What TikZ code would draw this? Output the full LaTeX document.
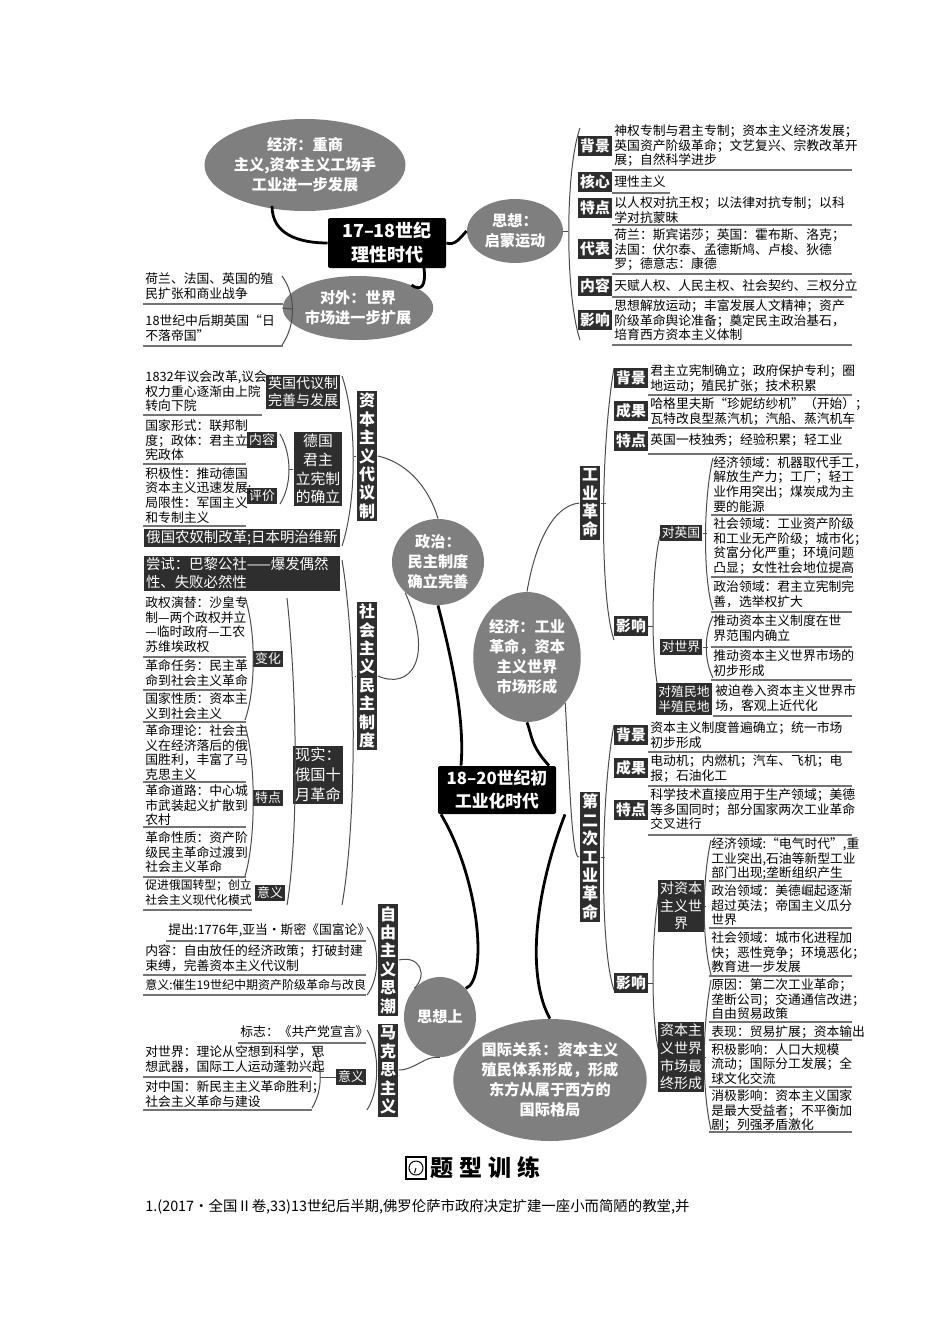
\documentclass[tikz,border=0pt]{standalone}
\usepackage{fontspec}
\setmainfont{Noto Sans CJK SC}
\usetikzlibrary{shapes.geometric}
\definecolor{ell}{HTML}{7F7F7F}
\definecolor{dark}{HTML}{2E2E2E}
\tikzset{
 itm/.style={anchor=north west,inner sep=0pt,align=left,font=\fontsize{6.4}{7.4}\selectfont},
 uline/.style={draw=black!55,line width=0.8pt},
 lab/.style={fill=dark,text=white,inner sep=1pt,font=\fontsize{7.4}{8.4}\selectfont\bfseries,minimum height=10pt},
 slab/.style={fill=dark,text=white,inner sep=1pt,font=\fontsize{6.4}{7.6}\selectfont,align=center},
 vlab/.style={fill=dark,text=white,inner sep=1.2pt,font=\fontsize{8}{9.2}\selectfont\bfseries,align=center},
 ellnode/.style={ellipse,fill=ell,text=white,inner sep=0pt,align=center,font=\fontsize{7.6}{10}\selectfont\bfseries},
 br/.style={draw=black!70,line width=0.5pt},
 thick/.style={draw=black,line width=1.4pt},
 titlebox/.style={fill=black,text=white,rounded corners=1pt,align=center,inner sep=0pt}
}
\newcommand\itm[6]{\node[itm] (#1) at (#2,#3) {#6}; \draw[uline] (#2-2,#5) -- (#4,#5);}
\begin{document}
\begin{tikzpicture}[x=0.5pt,y=-0.5pt]
\useasboundingbox[fill=white] (0,0) rectangle (950,1344);
% ===== TOP =====
\node[ellnode,minimum width=84pt,minimum height=46pt] (econA) at (305,165) {经济：重商\\主义,资本主义工场手\\工业进一步发展};
\node[titlebox,minimum width=59pt,minimum height=25pt,font=\fontsize{9}{12}\selectfont\bfseries] (age1) at (387,243) {17–18世纪\\理性时代};
\node[ellnode,minimum width=48pt,minimum height=32pt] (thA) at (515,231) {思想：\\启蒙运动};
\node[ellnode,minimum width=62pt,minimum height=32pt] (forA) at (358,308) {对外：世界\\市场进一步扩展};
\coordinate (e1) at (272,206);
\draw[thick] (e1) .. controls (272,235) and (300,243) .. (age1.west);
\draw[thick] (age1.east) .. controls (455,246) and (460,238) .. (thA.west);
\coordinate (e2) at (424,268);
\draw[thick] (e2) .. controls (426,285) and (422,292) .. (forA.north east);
% left items
\itm{fa1}{145}{272}{283}{304}{荷兰、法国、英国的殖\\民扩张和商业战争}
\itm{fa2}{145}{314}{283}{346}{18世纪中后期英国“日\\不落帝国”}
\draw[br] (282,276) .. controls (296,295) and (296,325) .. (282,345);
\draw[br] (forA.west) -- (292,309);
% right items
\draw[br] (580,128) .. controls (565,170) and (565,295) .. (580,340);
\draw[br] (thA.east) -- (568,231);
\node[lab] (r1) at (595,146) {背景}; \itm{t1}{614}{124}{852}{170}{神权专制与君主专制；资本主义经济发展；\\英国资产阶级革命；文艺复兴、宗教改革开\\展；自然科学进步}
\node[lab] (r2) at (595,182) {核心}; \itm{t2}{614}{175}{670}{193}{理性主义}
\node[lab] (r3) at (595,208) {特点}; \itm{t3}{614}{196}{852}{225}{以人权对抗王权；以法律对抗专制；以科\\学对抗蒙昧}
\node[lab] (r4) at (595,249) {代表}; \itm{t4}{614}{228}{852}{274}{荷兰：斯宾诺莎；英国：霍布斯、洛克；\\法国：伏尔泰、孟德斯鸠、卢梭、狄德\\罗；德意志：康德}
\node[lab] (r5) at (595,286) {内容}; \itm{t5}{614}{279}{852}{297}{天赋人权、人民主权、社会契约、三权分立}
\node[lab] (r6) at (595,320) {影响}; \itm{t6}{614}{299}{852}{345}{思想解放运动；丰富发展人文精神；资产\\阶级革命舆论准备；奠定民主政治基石，\\培育西方资本主义体制}
% ===== MIDDLE =====
\node[titlebox,minimum width=59pt,minimum height=24pt,font=\fontsize{8.4}{11.5}\selectfont\bfseries] (age2) at (497,790) {18–20世纪初\\工业化时代};
\node[ellnode,minimum width=46pt,minimum height=43pt] (pol) at (438,562) {政治：\\民主制度\\确立完善};
\node[ellnode,minimum width=51pt,minimum height=65pt] (eco) at (527,657) {经济：工业\\革命，资本\\主义世界\\市场形成};
\node[ellnode,minimum width=36pt,minimum height=40pt] (ths) at (440,1017) {思想上};
\node[ellnode,minimum width=79pt,minimum height=61pt] (intl) at (550,1080) {国际关系：资本主义\\殖民体系形成，形成\\东方从属于西方的\\国际格局};
\draw[thick] ([xshift=-18]age2.north) .. controls (465,720) and (452,660) .. (pol.south);
\draw[thick] ([xshift=26]age2.north) .. controls (530,745) and (532,735) .. (eco.south);
\draw[thick] ([xshift=-28]age2.south) .. controls (480,880) and (488,980) .. (ths.north east);
\draw[thick] ([xshift=34]age2.south) .. controls (532,900) and (528,980) .. (intl.north);
% vertical labels
\node[vlab] (v1) at (367,456) {资\\本\\主\\义\\代\\议\\制};
\node[vlab] (v2) at (367,676) {社\\会\\主\\义\\民\\主\\制\\度};
\node[vlab] (v3) at (590,503) {工\\业\\革\\命};
\node[vlab] (v4) at (590,857) {第\\二\\次\\工\\业\\革\\命};
\node[vlab] (v5) at (388,960) {自\\由\\主\\义\\思\\潮};
\node[vlab] (v6) at (388,1070) {马\\克\\思\\主\\义};
\draw[br] (pol.north) .. controls (428,485) and (405,462) .. (v1.east);
\draw[br] (pol.south west) .. controls (435,660) and (410,690) .. (v2.east);
\draw[br] (eco.north) .. controls (535,545) and (552,506) .. (v3.west);
\draw[br] (eco.south east) .. controls (570,790) and (572,860) .. (v4.west);
\draw[br] (v5.east) .. controls (420,955) and (428,975) .. (ths.north west);
\draw[br] (v6.east) .. controls (415,1070) and (425,1055) .. (ths.south);
% ---- 资本主义代议制
\draw[br] (342,376) .. controls (357,420) and (357,500) .. (342,546);
\draw[br] (v1.west) -- (354,456);
\node[slab,font=\fontsize{7}{8.6}\selectfont] (b1) at (303,392) {英国代议制\\完善与发展};
\itm{c1}{145}{370}{262}{415}{1832年议会改革,议会\\权力重心逐渐由上院\\转向下院}
\node[slab,font=\fontsize{7.4}{9.4}\selectfont,minimum width=22pt] (b2) at (318,469) {德国\\君主\\立宪制\\的确立};
\node[slab] (b2a) at (262,440) {内容};
\node[slab] (b2b) at (262,496) {评价};
\itm{c2}{145}{419}{246}{464}{国家形式：联邦制\\度；政体：君主立\\宪政体}
\itm{c3}{145}{467}{246}{526}{积极性：推动德国\\资本主义迅速发展;\\局限性：军国主义\\和专制主义}
\draw[br] (280,434) .. controls (292,455) and (292,485) .. (280,504);
\draw[br] (b2.west) -- (289,469);
\node[slab,font=\fontsize{7.2}{8.6}\selectfont,minimum width=98pt,text width=96pt] (b3) at (242,538) {俄国农奴制改革;日本明治维新};
% ---- 社会主义民主制度
\draw[br] (342,560) .. controls (357,650) and (357,820) .. (342,905);
\draw[br] (v2.west) -- (355,676);
\node[slab,font=\fontsize{7.2}{8.8}\selectfont,minimum width=98pt,text width=96pt,align=left] (s1) at (242,573) {尝试：巴黎公社——爆发偶然\\性、失败必然性};
\node[slab,font=\fontsize{7.6}{10}\selectfont,align=left] (s2) at (318,775) {现实：\\俄国十\\月革命};
\draw[br] (287,598) .. controls (298,700) and (298,840) .. (287,905);
\draw[br] (s2.west) -- (294,775);
\node[slab] (s3) at (268,659) {变化};
\node[slab] (s4) at (268,798) {特点};
\node[slab] (s5) at (270,893) {意义};
\itm{d1}{145}{596}{246}{657}{政权演替：沙皇专\\制—两个政权并立\\—临时政府—工农\\苏维埃政权}
\itm{d2}{145}{659}{246}{690}{革命任务：民主革\\命到社会主义革命}
\itm{d3}{145}{692}{246}{722}{国家性质：资本主\\义到社会主义}
\itm{d4}{145}{724}{246}{782}{革命理论：社会主\\义在经济落后的俄\\国胜利，丰富了马\\克思主义}
\itm{d5}{145}{784}{246}{827}{革命道路：中心城\\市武装起义扩散到\\农村}
\itm{d6}{145}{831}{246}{877}{革命性质：资产阶\\级民主革命过渡到\\社会主义革命}
\node[itm,font=\fontsize{5.9}{7.4}\selectfont] (d7) at (145,879) {促进俄国转型；创立\\社会主义现代化模式};
\draw[uline] (143,910) -- (252,910);
\draw[br] (245,598) .. controls (256,630) and (256,690) .. (245,720);
\draw[br] (245,726) .. controls (256,760) and (256,840) .. (245,876);
% ---- 工业革命
\draw[br] (614,368) .. controls (600,450) and (600,600) .. (614,640);
\draw[br] (v3.east) -- (606,503);
\node[lab] (g1) at (631,378) {背景}; \itm{h1}{650}{364}{852}{395}{君主立宪制确立；政府保护专利；圈\\地运动；殖民扩张；技术积累}
\node[lab] (g2) at (631,411) {成果}; \itm{h2}{650}{397}{852}{428}{哈格里夫斯“珍妮纺纱机”（开始）；\\瓦特改良型蒸汽机；汽船、蒸汽机车}
\node[lab] (g3) at (631,441) {特点}; \itm{h3}{650}{433}{852}{454}{英国一枝独秀；经验积累；轻工业}
\node[lab] (g4) at (631,626) {影响};
\draw[br] (662,530) .. controls (650,560) and (650,680) .. (662,700);
\draw[br] (g4.east) -- (653,626);
\node[slab] (g5) at (681,533) {对英国};
\node[slab] (g6) at (681,647) {对世界};
\node[slab] (g7) at (684,699) {对殖民地\\半殖民地};
\draw[br] (713,458) .. controls (703,500) and (703,580) .. (713,610);
\draw[br] (g5.east) -- (707,533);
\itm{h4}{713}{456}{852}{515}{经济领域：机器取代手工，\\解放生产力；工厂；轻工\\业作用突出；煤炭成为主\\要的能源}
\itm{h5}{713}{517}{852}{577}{社会领域：工业资产阶级\\和工业无产阶级；城市化；\\贫富分化严重；环境问题\\凸显；女性社会地位提高}
\itm{h6}{713}{580}{852}{612}{政治领域：君主立宪制完\\善，选举权扩大}
\draw[br] (713,616) .. controls (704,635) and (704,660) .. (713,678);
\draw[br] (g6.east) -- (708,647);
\itm{h7}{713}{614}{852}{647}{推动资本主义制度在世\\界范围内确立}
\itm{h8}{713}{649}{852}{680}{推动资本主义世界市场的\\初步形成}
\itm{h9}{715}{684}{852}{716}{被迫卷入资本主义世界市\\场，客观上近代化}
% ---- 第二次工业革命
\draw[br] (614,725) .. controls (600,800) and (600,950) .. (614,990);
\draw[br] (v4.east) -- (605,857);
\node[lab] (k1) at (631,735) {背景}; \itm{m1}{650}{721}{852}{752}{资本主义制度普遍确立；统一市场\\初步形成}
\node[lab] (k2) at (631,768) {成果}; \itm{m2}{650}{754}{852}{786}{电动机；内燃机；汽车、飞机；电\\报；石油化工}
\node[lab] (k3) at (631,810) {特点}; \itm{m3}{650}{788}{852}{835}{科学技术直接应用于生产领域；美德\\等多国同时；部分国家两次工业革命\\交叉进行}
\node[lab] (k4) at (631,983) {影响};
\draw[br] (662,880) .. controls (650,920) and (650,1040) .. (662,1060);
\draw[br] (k4.east) -- (653,983);
\node[slab,font=\fontsize{7}{8.8}\selectfont] (k5) at (681,906) {对资本\\主义世\\界};
\node[slab,font=\fontsize{7}{8.8}\selectfont] (k6) at (681,1057) {资本主\\义世界\\市场最\\终形成};
\draw[br] (711,840) .. controls (702,880) and (702,940) .. (711,975);
\draw[br] (k5.east) -- (706,906);
\itm{m4}{711}{837}{852}{881}{经济领域:“电气时代”,重\\工业突出,石油等新型工业\\部门出现;垄断组织产生}
\itm{m5}{711}{884}{852}{928}{政治领域：美德崛起逐渐\\超过英法；帝国主义瓜分\\世界}
\itm{m6}{711}{931}{852}{976}{社会领域：城市化进程加\\快；恶性竞争；环境恶化；\\教育进一步发展}
\draw[br] (711,980) .. controls (702,1030) and (702,1090) .. (711,1130);
\draw[br] (k6.east) -- (706,1057);
\itm{m7}{711}{978}{852}{1022}{原因：第二次工业革命；\\垄断公司；交通通信改进；\\自由贸易政策}
\itm{m8}{711}{1025}{852}{1040}{表现：贸易扩展；资本输出}
\itm{m9}{711}{1043}{852}{1087}{积极影响：人口大规模\\流动；国际分工发展；全\\球文化交流}
\itm{m10}{711}{1089}{852}{1132}{消极影响：资本主义国家\\是最大受益者；不平衡加\\剧；列强矛盾激化}
% ---- 自由主义思潮
\draw[br] (367,927) .. controls (380,945) and (380,978) .. (367,995);
\draw[br] (v5.west) -- (376,960);
\itm{f1}{168}{923}{366}{941}{提出:1776年,亚当·斯密《国富论》}
\itm{f2}{145}{944}{366}{975}{内容：自由放任的经济政策；打破封建\\束缚，完善资本主义代议制}
\node[itm,font=\fontsize{6}{7.4}\selectfont] (f3) at (145,979) {意义:催生19世纪中期资产阶级革命与改良};
\draw[uline] (143,995) -- (366,995);
% ---- 马克思主义
\draw[br] (367,1030) .. controls (380,1050) and (380,1090) .. (367,1110);
\draw[br] (v6.west) -- (376,1070);
\itm{f4}{240}{1025}{366}{1043}{标志：《共产党宣言》}
\node[slab] (f7) at (351,1077) {意义};
\draw[br] (312,1046) .. controls (323,1065) and (323,1090) .. (312,1108);
\draw[br] (f7.west) -- (320,1077);
\itm{f5}{145}{1045}{312}{1077}{对世界：理论从空想到科学，思\\想武器，国际工人运动蓬勃兴起}
\itm{f6}{145}{1080}{312}{1110}{对中国：新民主主义革命胜利；\\社会主义革命与建设}
% ===== BOTTOM =====
\node[draw,line width=0.6pt,minimum width=10pt,minimum height=11pt,inner sep=0pt] (icon) at (416,1168) {};
\draw[line width=0.5pt] (icon.center) circle (3.5pt);
\draw[line width=0.5pt] (icon.center) -- ++(-1.5,5);
\node[anchor=west,inner sep=0pt,font=\fontsize{11.5}{12}\selectfont\bfseries] (ttl) at (430,1168) {题\hspace{3pt}型\hspace{3pt}训\hspace{3pt}练};
\node[anchor=west,inner sep=0pt,font=\fontsize{7.2}{8}\selectfont] (q1) at (145,1207) {1.(2017·全国Ⅱ卷,33)13世纪后半期,佛罗伦萨市政府决定扩建一座小而简陋的教堂,并};
\end{tikzpicture}
\end{document}
